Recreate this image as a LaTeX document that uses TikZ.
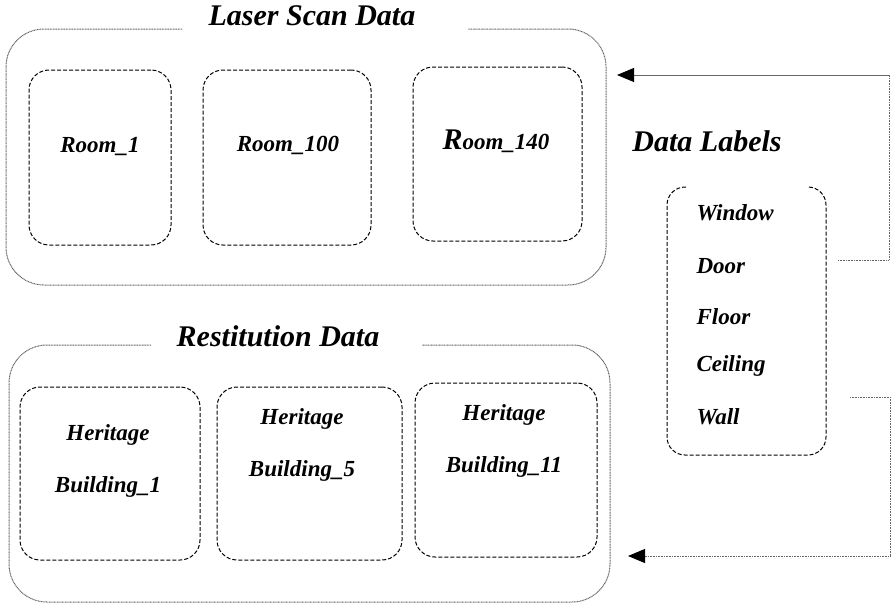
\documentclass[tikz,border=0pt]{standalone}
\usepackage{fontspec}
\setmainfont{Liberation Serif}
\usetikzlibrary{arrows.meta}

\tikzset{
	frame/.style={draw=black!60, line width=1pt, dash pattern=on 1pt off 0.6pt, rounded corners=38pt},
	roombox/.style={draw, line width=1pt, dash pattern=on 4pt off 2pt, rounded corners=20pt, inner sep=0pt},
	title/.style={font=\fontsize{30}{32}\selectfont\bfseries\itshape},
	boxtext/.style={font=\fontsize{23}{52}\selectfont\bfseries\itshape, align=center},
	link/.style={draw=black!60, line width=1pt, dash pattern=on 1pt off 0.6pt},
	tip/.style={-{Triangle[length=17pt,width=14pt,color=black]}},
}

\begin{document}
\begin{tikzpicture}[x=1pt, y=-1pt]
	\useasboundingbox (0,0) rectangle (896,608);

	\draw[frame] (182,29) -- (6,29) -- (6,285) -- (606,285) -- (606,29) -- (468,29);
	\node[title] (scantitle) at (312,16) {Laser Scan Data};
	\node[roombox, minimum width=142pt, minimum height=175pt] (room1) at (100,157.5) {};
	\node[roombox, minimum width=168pt, minimum height=175pt] (room100) at (287,157.5) {};
	\node[roombox, minimum width=169pt, minimum height=174pt] (room140) at (497.5,154) {};
	\node[boxtext] (room1txt) at (room1.center) [yshift=11pt] {Room\_1};
	\node[boxtext] (room100txt) at (288,145) {Room\_100};
	\node[boxtext] (room140txt) at (496,141) {{\fontsize{30}{32}\selectfont R}oom\_140};

	\draw[frame] (151,345) -- (9,345) -- (9,602) -- (610,602) -- (610,345) -- (422,345);
	\node[title] (resttitle) at (278,336) {Restitution Data};
	\node[roombox, minimum width=180pt, minimum height=173pt] (bldg1) at (110,473.5) {};
	\node[roombox, minimum width=185pt, minimum height=173pt] (bldg5) at (309.5,473.5) {};
	\node[roombox, minimum width=182pt, minimum height=174pt] (bldg11) at (506,470) {};
	\node[boxtext] (bldg1txt) at (108,461) {Heritage\\Building\_1};
	\node[boxtext] (bldg5txt) at (302,444.5) {Heritage\\Building\_5};
	\node[boxtext] (bldg11txt) at (504,441) {Heritage\\Building\_11};

	\node[title] (labeltitle) at (707,141) {Data Labels};
	\draw[roombox, rounded corners=18pt] (686,187) -- (667,187) -- (667,455) -- (826,455) -- (826,187) -- (807,187);
	\node[boxtext, anchor=west] (window) at (693,213) {Window};
	\node[boxtext, anchor=west] (door) at (693,266) {Door};
	\node[boxtext, anchor=west] (floor) at (693,317) {Floor};
	\node[boxtext, anchor=west] (ceiling) at (693,366) {Ceiling};
	\node[boxtext, anchor=west] (wall) at (693,417) {Wall};

	\coordinate (labelout1) at (838,260);
	\coordinate (labelout2) at (850,397);
	\coordinate (scanin) at (617,75);
	\coordinate (restin) at (628,556);
	\draw[link] (labelout1) -- (889,260) -- (889,75) coordinate (topturn);
	\draw[draw=black!60, line width=0.9pt, tip] (topturn) -- (scanin);
	\draw[link, tip] (labelout2) -- (890,397) |- (restin);
\end{tikzpicture}
\end{document}
